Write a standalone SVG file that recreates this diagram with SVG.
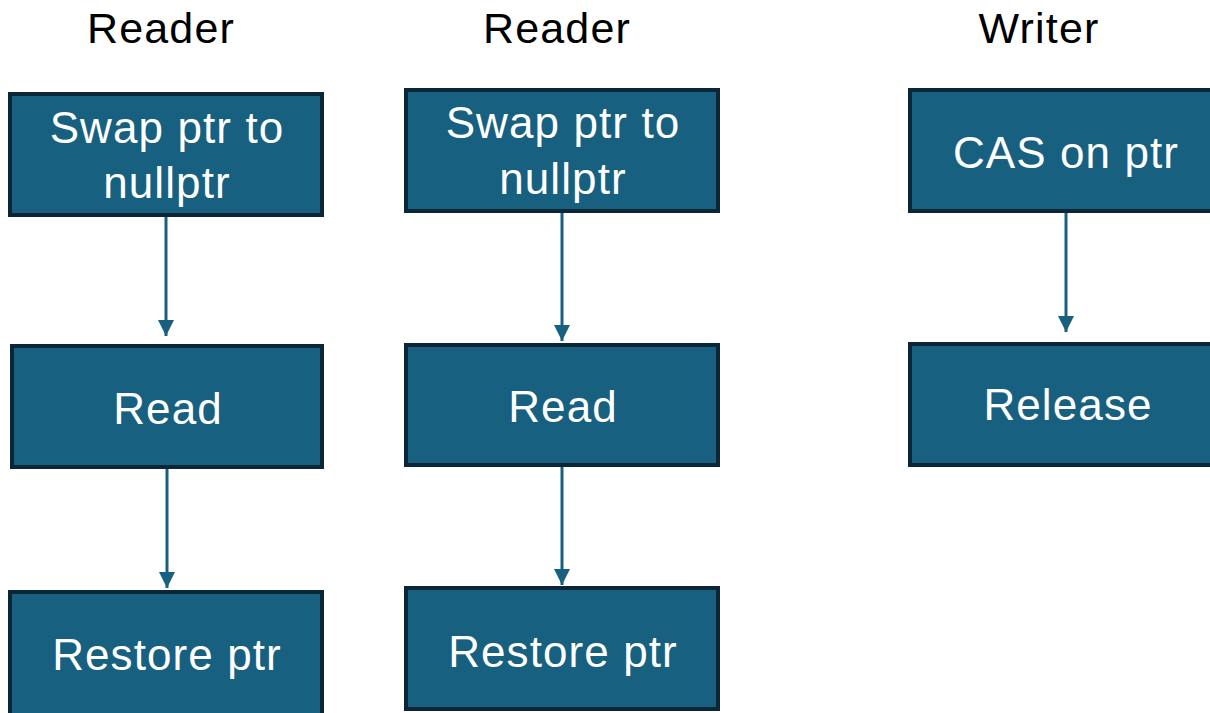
<svg xmlns="http://www.w3.org/2000/svg" width="1210" height="713" viewBox="0 0 1210 713">
  <style>
    .box { fill: #18607f; stroke: #0b2636; stroke-width: 4; }
    .label { font-family: "Liberation Sans", Arial, sans-serif; font-size: 44px; fill: #ffffff; text-anchor: middle; letter-spacing: 1.1px; }
    .head { font-family: "Liberation Sans", Arial, sans-serif; font-size: 43px; fill: #000000; text-anchor: middle; letter-spacing: 1.2px; }
    .edge { stroke: #18607f; stroke-width: 3; fill: none; marker-end: url(#arrow); }
  </style>
  <defs>
    <marker id="arrow" markerUnits="userSpaceOnUse" markerWidth="16" markerHeight="16" refX="16" refY="8" orient="auto">
      <path d="M0,0 L16,8 L0,16 Z" fill="#18607f"/>
    </marker>
  </defs>
  <rect width="1210" height="713" fill="#ffffff"/>

  <!-- column headings -->
  <g id="headings">
    <text class="head" x="161" y="43">Reader</text>
    <text class="head" x="557" y="43">Reader</text>
    <text class="head" x="1039" y="43">Writer</text>
  </g>

  <!-- connectors -->
  <g id="connectors">
    <path class="edge" d="M166,217 L166,336"/>
    <path class="edge" d="M167,469 L167,588"/>
    <path class="edge" d="M562,213 L562,341"/>
    <path class="edge" d="M562,467 L562,585"/>
    <path class="edge" d="M1066,213 L1066,332"/>
  </g>

  <!-- first reader -->
  <g id="r1-swap">
    <rect class="box" x="10" y="94" width="312" height="121"/>
    <text class="label" x="167" y="143">Swap ptr to</text>
    <text class="label" x="167" y="198">nullptr</text>
  </g>
  <g id="r1-read">
    <rect class="box" x="12" y="346" width="310" height="121"/>
    <text class="label" x="168" y="424">Read</text>
  </g>
  <g id="r1-restore">
    <rect class="box" x="10" y="592" width="312" height="124"/>
    <text class="label" x="167" y="670">Restore ptr</text>
  </g>

  <!-- second reader -->
  <g id="r2-swap">
    <rect class="box" x="406" y="90" width="312" height="121"/>
    <text class="label" x="563" y="138">Swap ptr to</text>
    <text class="label" x="563" y="194">nullptr</text>
  </g>
  <g id="r2-read">
    <rect class="box" x="406" y="345" width="312" height="120"/>
    <text class="label" x="563" y="422">Read</text>
  </g>
  <g id="r2-restore">
    <rect class="box" x="406" y="588" width="312" height="121"/>
    <text class="label" x="563" y="667">Restore ptr</text>
  </g>

  <!-- writer -->
  <g id="w-cas">
    <rect class="box" x="910" y="90" width="312" height="121"/>
    <text class="label" x="1066" y="168">CAS on ptr</text>
  </g>
  <g id="w-release">
    <rect class="box" x="910" y="344" width="312" height="121"/>
    <text class="label" x="1068" y="420">Release</text>
  </g>
</svg>
